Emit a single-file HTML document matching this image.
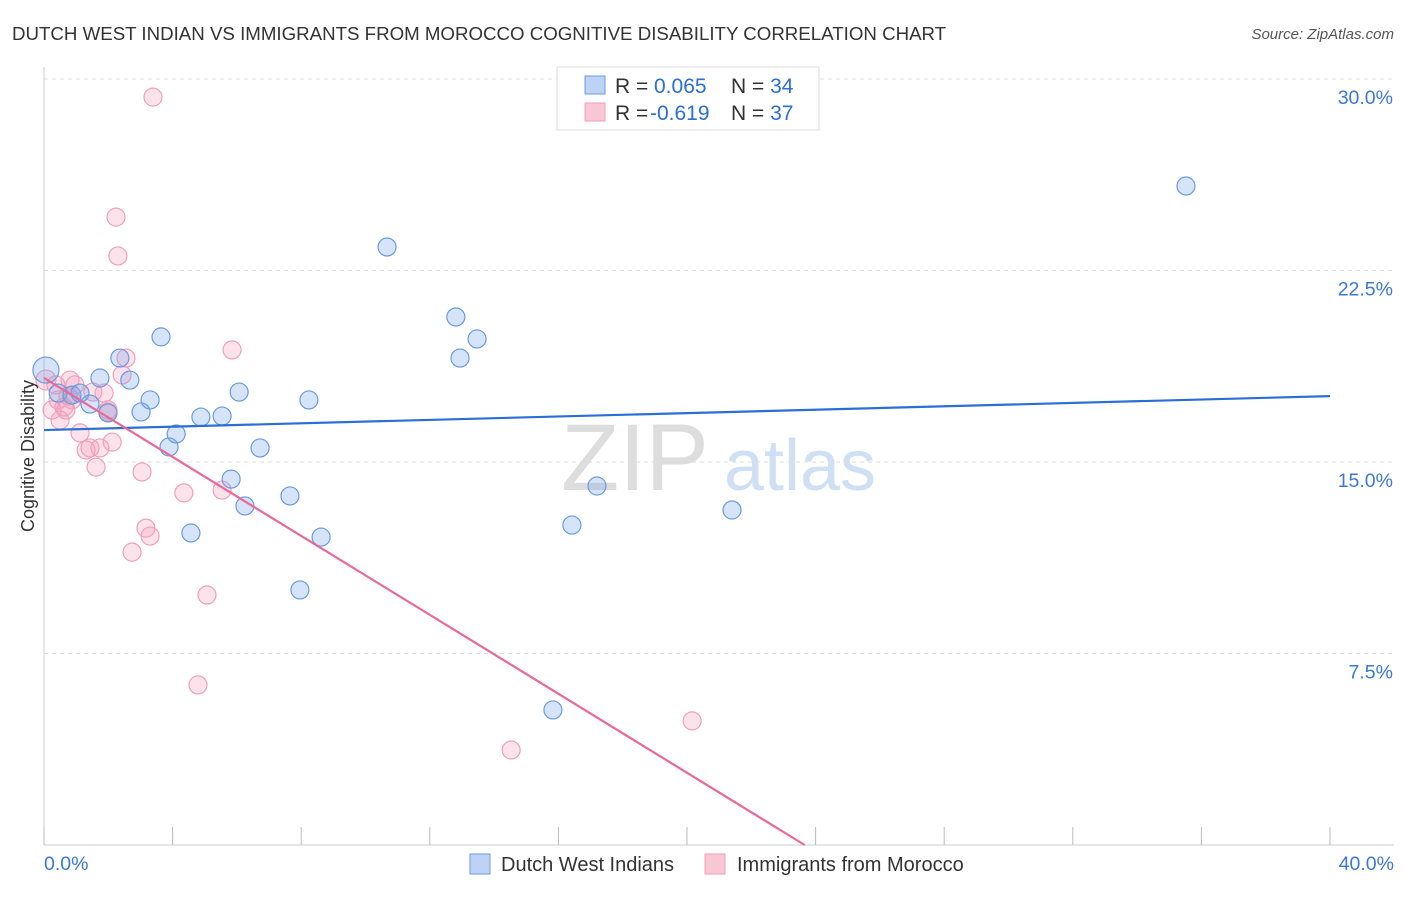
<!DOCTYPE html>
<html><head><meta charset="utf-8"><style>
body{margin:0;background:#fff;font-family:"Liberation Sans",sans-serif;}
svg text{font-family:"Liberation Sans",sans-serif;}
</style></head><body>
<svg id="chart" width="1406" height="892">
<text x="12" y="40" font-size="18.7" fill="#333">DUTCH WEST INDIAN VS IMMIGRANTS FROM MOROCCO COGNITIVE DISABILITY CORRELATION CHART</text>
<text x="1394" y="39" font-size="15" fill="#555" font-style="italic" text-anchor="end">Source: ZipAtlas.com</text>
<g>
<text x="635" y="490" font-size="95" fill="#ddd" font-family="Liberation Serif" text-anchor="middle">ZIP</text>
<text x="800" y="490" font-size="72" fill="#cfe0f5" text-anchor="middle">atlas</text>
</g>
<g id="grid"></g>
<g id="axes"></g>
<g id="points"></g>
<g id="lines"></g>
<text transform="translate(34,456) rotate(-90)" font-size="18" fill="#333" text-anchor="middle">Cognitive Disability</text>
<g>
<rect x="557" y="67" width="262" height="63" fill="#fff" stroke="#ddd"/>
<rect x="585" y="76" width="20" height="18" fill="#bcd3f5" stroke="#6a9be0"/>
<rect x="585" y="103" width="20" height="18" fill="#f9c6d6" stroke="#f0a0bb"/>
<text x="615" y="93" font-size="21" fill="#333">R = <tspan x="654" fill="#2a6fd6">0.065</tspan><tspan x="731">N = </tspan><tspan fill="#2a6fd6">34</tspan></text>
<text x="615" y="120" font-size="21" fill="#333">R = <tspan x="650" fill="#2a6fd6">-0.619</tspan><tspan x="731">N = </tspan><tspan fill="#2a6fd6">37</tspan></text>
</g>
<g>
<rect x="470" y="854" width="20" height="20" fill="#bcd3f5" stroke="#6a9be0"/>
<text x="501" y="871" font-size="20" fill="#333">Dutch West Indians</text>
<rect x="705" y="854" width="20" height="20" fill="#f9c6d6" stroke="#f0a0bb"/>
<text x="737" y="871" font-size="20" fill="#333">Immigrants from Morocco</text>
</g>
</svg>
<script>
const yTicks=[7.5,15,22.5,30];
const yTickLabels=["7.5%","15.0%","22.5%","30.0%"];
const xTickCount=10;
const xLabels=["0.0%","40.0%"];
const blueX=[0.06,0.44,0.87,1.12,1.43,1.74,1.99,2.36,2.67,3.02,3.30,3.64,3.89,4.11,4.57,4.88,5.54,5.82,6.07,6.25,6.72,7.65,7.96,8.24,8.62,10.67,12.81,12.94,13.47,15.83,16.42,17.20,21.40,35.52];
const blueY=[18.60,17.70,17.62,17.70,17.27,18.29,16.92,19.07,18.21,16.96,17.43,19.90,15.59,16.10,12.22,16.76,16.80,14.33,17.74,13.28,15.55,13.67,9.99,17.43,12.06,23.42,20.68,19.07,19.82,5.29,12.53,14.06,13.12,25.81];
const pinkX=[0.06,0.25,0.37,0.50,0.62,0.75,0.81,0.96,1.12,1.31,1.43,1.52,1.62,1.74,1.87,1.99,2.12,2.24,2.30,2.43,2.55,3.05,3.17,3.30,2.74,3.39,4.35,4.79,5.07,5.54,5.85,14.53,20.16,0.44,0.68,1.99,0.87];
const pinkY=[18.21,17.04,18.02,16.64,17.15,17.58,18.21,18.02,16.14,15.47,15.55,17.74,14.80,15.55,17.70,16.96,15.78,24.59,23.07,18.41,19.07,14.61,12.41,12.10,11.47,29.29,13.79,6.27,9.79,13.90,19.39,3.72,4.86,17.43,17.04,17.04,17.43];
const blueTrend=[16.25,17.58];
const pinkTrend=[18.29,-0.773];
const X0=44,X1=1330,Y0=845,YTOP=79;
const sx=v=>X0+(v/40)*(X1-X0);
const sy=v=>Y0-(v/30)*(Y0-YTOP);
const NS="http://www.w3.org/2000/svg";
function mk(tag,attrs,parent){const e=document.createElementNS(NS,tag);for(const k in attrs)e.setAttribute(k,attrs[k]);parent.appendChild(e);return e;}
const grid=document.getElementById('grid'),axes=document.getElementById('axes'),pts=document.getElementById('points'),lines=document.getElementById('lines');
yTicks.forEach((t,i)=>{
 const l=mk('line',{x1:X0,x2:1394,y1:sy(t),y2:sy(t),stroke:'#ddd','stroke-dasharray':'4,4'},grid);
 
 
 const tx=mk('text',{x:1393,y:sy(t)+25,'font-size':19.5,fill:'#3b78d8','text-anchor':'end'},axes);
 tx.textContent=yTickLabels[i];
 
 
});
const la=mk('line',{x1:X0,x2:X0,y1:67,y2:Y0,stroke:'#ccc'},axes);


const ba=mk('line',{x1:X0,x2:1394,y1:Y0,y2:Y0,stroke:'#ccc'},axes);


for(let i=0;i<=xTickCount;i++){
 const x=sx(i*40/xTickCount);
 const t=mk('line',{x1:x,x2:x,y1:827,y2:Y0,stroke:'#bbb'},axes);
 
 
}
const xl0=mk('text',{x:44,y:870,'font-size':19.5,fill:'#3b78d8'},axes);xl0.textContent=xLabels[0];


const xl1=mk('text',{x:1394,y:870,'font-size':19.5,fill:'#3b78d8','text-anchor':'end'},axes);xl1.textContent=xLabels[1];


pinkX.forEach((v,i)=>{
 const c=mk('circle',{cx:sx(v),cy:sy(pinkY[i]),r:i===0?10:9,fill:'rgba(244,160,188,0.3)',stroke:'#f0a0bb','stroke-width':1.2},pts);
 
 
});
blueX.forEach((v,i)=>{
 const c=mk('circle',{cx:sx(v),cy:sy(blueY[i]),r:i===0?13:9,fill:'rgba(120,165,235,0.3)',stroke:'#6a9be0','stroke-width':1.2},pts);
 
 
});
const bl=mk('line',{x1:sx(0),y1:sy(blueTrend[0]),x2:sx(40),y2:sy(blueTrend[1]),stroke:'#2a6fd6','stroke-width':2.2},lines);


const xEnd=-pinkTrend[0]/pinkTrend[1];
const pl=mk('line',{x1:sx(0),y1:sy(pinkTrend[0]),x2:sx(xEnd),y2:sy(0),stroke:'#e8699a','stroke-width':2.2},lines);


</script>
</body></html>
